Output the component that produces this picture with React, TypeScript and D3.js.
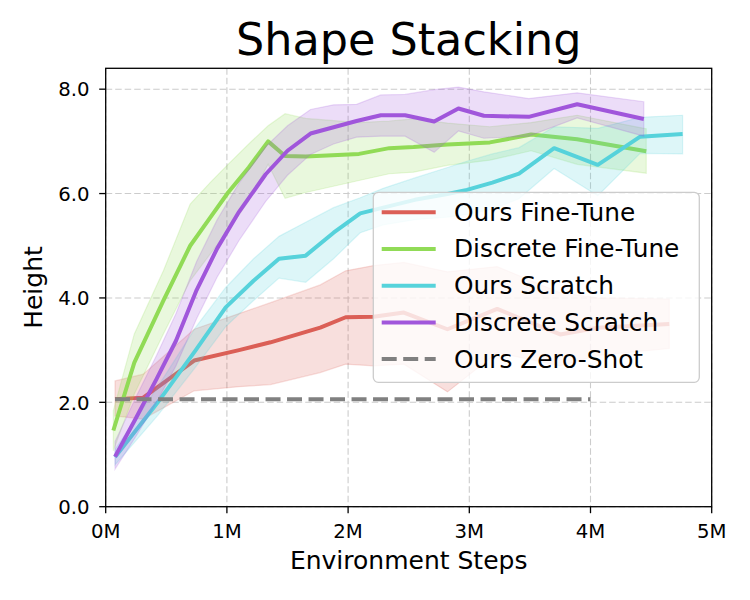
import * as d3 from 'd3';

// Ours Fine-Tune
const redX = [0.077, 0.31, 0.73, 1.1, 1.36, 1.77, 1.98, 2.21, 2.46, 2.82, 3.23, 3.75, 4.06, 4.65];
const redMean = [2.06, 2.09, 2.8, 3.0, 3.15, 3.43, 3.63, 3.64, 3.72, 3.4, 3.79, 3.3, 3.43, 3.5];
const redHi = [2.41, 2.54, 3.4, 3.7, 3.91, 4.25, 4.52, 4.62, 4.68, 4.5, 4.6, 4.1, 4.0, 3.98];
const redLo = [1.74, 1.68, 2.22, 2.3, 2.34, 2.57, 2.73, 2.7, 2.73, 2.2, 2.95, 2.7, 2.9, 3.03];

// Discrete Fine-Tune
const greenX = [0.063, 0.236, 0.476, 0.697, 0.862, 1.01, 1.18, 1.34, 1.48, 1.65, 2.09, 2.34, 2.54, 2.82, 3.17, 3.51, 3.89, 4.46];
const greenMean = [1.46, 2.76, 3.95, 5.0, 5.54, 6.02, 6.5, 7.0, 6.72, 6.71, 6.76, 6.87, 6.89, 6.94, 6.98, 7.13, 7.04, 6.81];
const greenHi = [1.84, 3.31, 4.52, 5.8, 6.21, 6.56, 6.95, 7.3, 7.53, 7.44, 7.36, 7.39, 7.43, 7.35, 7.28, 7.36, 7.5, 7.24];
const greenLo = [1.07, 2.16, 3.31, 4.33, 4.84, 5.29, 5.86, 6.56, 5.91, 6.02, 6.25, 6.38, 6.41, 6.54, 6.64, 6.82, 6.56, 6.39];

// Ours Scratch
const cyanX = [0.077, 0.43, 0.74, 0.99, 1.22, 1.43, 1.65, 1.88, 2.1, 2.29, 2.55, 2.82, 2.98, 3.19, 3.41, 3.7, 4.06, 4.41, 4.76];
const cyanMean = [0.95, 2.0, 2.99, 3.82, 4.33, 4.75, 4.81, 5.25, 5.62, 5.73, 5.88, 5.99, 6.07, 6.21, 6.38, 6.87, 6.55, 7.09, 7.14];
const cyanHi = [1.1, 2.3, 3.43, 4.2, 4.75, 5.18, 5.45, 5.73, 5.92, 6.1, 6.3, 6.5, 6.62, 6.76, 6.88, 7.28, 7.25, 7.46, 7.5];
const cyanLo = [0.8, 1.75, 2.67, 3.45, 3.95, 4.38, 4.3, 4.75, 5.25, 5.4, 5.5, 5.55, 5.6, 5.7, 5.9, 6.48, 5.96, 6.77, 6.76];

// Discrete Scratch
const purpleX = [0.077, 0.25, 0.42, 0.58, 0.75, 0.92, 1.1, 1.32, 1.5, 1.69, 1.88, 2.07, 2.27, 2.47, 2.71, 2.91, 3.12, 3.49, 3.89, 4.44];
const purpleMean = [0.96, 1.7, 2.45, 3.18, 4.15, 4.95, 5.65, 6.37, 6.82, 7.15, 7.27, 7.39, 7.5, 7.5, 7.38, 7.63, 7.49, 7.47, 7.71, 7.43];
const purpleHi = [1.25, 2.1, 2.9, 3.7, 4.7, 5.5, 6.2, 6.9, 7.3, 7.61, 7.7, 7.71, 7.89, 7.9, 7.99, 8.04, 7.95, 7.82, 7.93, 7.76];
const purpleLo = [0.72, 1.35, 2.0, 2.7, 3.6, 4.4, 5.1, 5.85, 6.35, 6.75, 6.95, 7.08, 7.1, 7.1, 6.79, 7.2, 7.06, 7.1, 7.45, 7.1];

// Ours Zero-Shot
const zeroX = [0.077, 4.0];
const zeroY = [2.06, 2.06];

const xTicks = [0, 1, 2, 3, 4, 5];
const yTicks = [0, 2, 4, 6, 8];
const legendLabels = ['Ours Fine-Tune', 'Discrete Fine-Tune', 'Ours Scratch', 'Discrete Scratch', 'Ours Zero-Shot'];

const font = 'DejaVu Sans, sans-serif';
const colors = ['#db5f57', '#91db57', '#57d3db', '#a157db', '#808080'];

export default function App() {
  const left = 105.7;
  const right = 711.7;
  const top = 68.3;
  const bottom = 506.7;

  const x = d3.scaleLinear().domain([0, 5]).range([left, right]);
  const y = d3.scaleLinear().domain([0, 8.4]).range([bottom, top]);

  const series = [
    { xs: redX, mean: redMean, hi: redHi, lo: redLo },
    { xs: greenX, mean: greenMean, hi: greenHi, lo: greenLo },
    { xs: cyanX, mean: cyanMean, hi: cyanHi, lo: cyanLo },
    { xs: purpleX, mean: purpleMean, hi: purpleHi, lo: purpleLo },
  ];

  const line = d3
    .line<[number, number]>()
    .x((d) => x(d[0]))
    .y((d) => y(d[1]));

  const area = d3
    .area<[number, number, number]>()
    .x((d) => x(d[0]))
    .y0((d) => y(d[1]))
    .y1((d) => y(d[2]));

  const legendTop = 192.3;
  const rowH = 36.7;

  return (
    <svg
      width={750}
      height={600}
      style={{ position: 'absolute', left: 0, top: 0, background: '#fff' }}
      fontFamily={font}
    >
      <defs>
        <clipPath id="plot">
          <rect x={left} y={top} width={right - left} height={bottom - top} />
        </clipPath>
      </defs>

      {/* grid */}
      <g stroke="#cccccc" strokeWidth={1.1} strokeDasharray="6.5,3">
        {xTicks.map((t) => (
          <line key={'gx' + t} x1={x(t)} x2={x(t)} y1={top} y2={bottom} />
        ))}
        {yTicks.map((t) => (
          <line key={'gy' + t} x1={left} x2={right} y1={y(t)} y2={y(t)} />
        ))}
      </g>

      <g clipPath="url(#plot)">
        {series.map((s, i) => {
          const pts = s.xs.map((v, j) => [v, s.mean[j]] as [number, number]);
          const band = s.xs.map((v, j) => [v, s.lo[j], s.hi[j]] as [number, number, number]);
          return (
            <g key={i}>
              <path d={line(pts) || ''} fill="none" stroke={colors[i]} strokeWidth={4} strokeLinejoin="round" />
              <path d={area(band) || ''} fill={colors[i]} fillOpacity={0.2} stroke={colors[i]} strokeOpacity={0.2} strokeWidth={1.2} />
            </g>
          );
        })}
        <path
          d={line(zeroX.map((v, j) => [v, zeroY[j]] as [number, number])) || ''}
          fill="none"
          stroke={colors[4]}
          strokeWidth={4}
          strokeDasharray="15,6.5"
        />
      </g>

      {/* spines */}
      <rect x={left} y={top} width={right - left} height={bottom - top} fill="none" stroke="#000" strokeWidth={1.3} />

      {/* ticks */}
      {xTicks.map((t) => (
        <g key={'xt' + t}>
          <line x1={x(t)} x2={x(t)} y1={bottom} y2={bottom + 6.5} stroke="#000" strokeWidth={1.3} />
          <text x={x(t)} y={bottom + 31.6} fontSize={19.7} textAnchor="middle">
            {`${t}M`}
          </text>
        </g>
      ))}
      {yTicks.map((t) => (
        <g key={'yt' + t}>
          <line x1={left - 6.5} x2={left} y1={y(t)} y2={y(t)} stroke="#000" strokeWidth={1.3} />
          <text x={89.5} y={y(t) + 7.2} fontSize={19.7} textAnchor="end">
            {d3.format('.1f')(t)}
          </text>
        </g>
      ))}

      {/* labels */}
      <text x={(left + right) / 2} y={55} fontSize={44.5} textAnchor="middle">
        Shape Stacking
      </text>
      <text x={(left + right) / 2} y={569} fontSize={25} textAnchor="middle">
        Environment Steps
      </text>
      <text
        transform={`translate(41.7, ${(top + bottom) / 2}) rotate(-90)`}
        fontSize={25}
        textAnchor="middle"
      >
        Height
      </text>

      {/* legend */}
      <rect
        x={373.3}
        y={legendTop}
        width={326}
        height={190}
        rx={5}
        fill="#fff"
        fillOpacity={0.8}
        stroke="#cccccc"
        strokeWidth={1.3}
      />
      {legendLabels.map((label, i) => {
        const cy = legendTop + 20 + i * rowH;
        return (
          <g key={label}>
            <line
              x1={381.7}
              x2={435.7}
              y1={cy}
              y2={cy}
              stroke={colors[i]}
              strokeWidth={4}
              strokeDasharray={i === 4 ? '15,6.5' : undefined}
            />
            <text x={454} y={cy + 8.4} fontSize={24.8}>
              {label}
            </text>
          </g>
        );
      })}
    </svg>
  );
}
